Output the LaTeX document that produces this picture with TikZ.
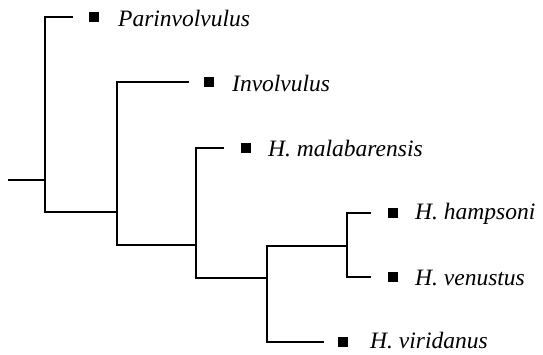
\documentclass[tikz,border=0pt]{standalone}
\usepackage{fontspec}
\setmainfont{Liberation Serif}
\begin{document}
\begin{tikzpicture}[x=1pt,y=-1pt,
  branch/.style={line width=2pt,line cap=rect,line join=miter},
  mark box/.style={fill=black,inner sep=0pt,minimum size=10pt},
  taxon/.style={anchor=west,inner sep=0pt,font=\fontsize{23.5}{26}\selectfont\itshape}]
\useasboundingbox (0,0) rectangle (543,354);
% internal nodes
\coordinate (r0) at (9,180);
\coordinate (i1) at (45,180);
\coordinate (i2) at (117,212);
\coordinate (i3) at (196,245);
\coordinate (i4) at (267,278);
\coordinate (i5) at (347,246);
% leaf ends
\coordinate (l1) at (72,17);
\coordinate (l2) at (188,82);
\coordinate (l3) at (223,148);
\coordinate (l4) at (370,213);
\coordinate (l5) at (370,277);
\coordinate (l6) at (323,342);
% branches
\draw[branch] (r0) -- (i1);
\draw[branch] (l1) -| (i1) |- (i2);
\draw[branch] (l2) -| (i2) |- (i3);
\draw[branch] (l3) -| (i3) |- (i4);
\draw[branch] (i5) -| (i4) |- (l6);
\draw[branch] (l4) -| (i5) |- (l5);
% marks
\node[mark box] (m1) at (94,17) {};
\node[mark box] (m2) at (209,82) {};
\node[mark box] (m3) at (246,148) {};
\node[mark box] (m4) at (393,213) {};
\node[mark box] (m5) at (393,277) {};
\node[mark box] (m6) at (343,342) {};
% labels
\node[taxon] (t1) at (118,18) {Parinvolvulus};
\node[taxon] (t2) at (232,83) {Involvulus};
\node[taxon] (t3) at (268,149) {H. malabarensis};
\node[taxon] (t4) at (415,214) {H. hampsoni};
\node[taxon] (t5) at (415,278) {H. venustus};
\node[taxon] (t6) at (370,341) {H. viridanus};
\end{tikzpicture}
\end{document}
